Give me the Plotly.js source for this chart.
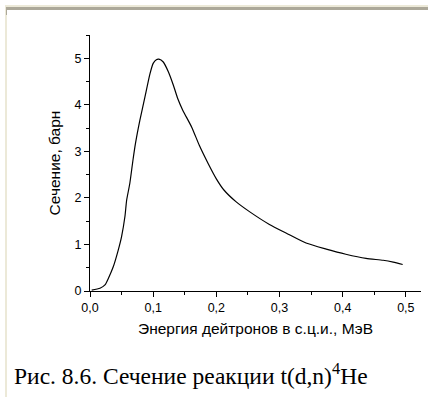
<!DOCTYPE html>
<html>
<head>
<meta charset="utf-8">
<script src="https://cdn.plot.ly/plotly-3.0.1.min.js"></script>
<style>
  html, body { margin: 0; padding: 0; background: #ffffff; }
  #wrap { position: relative; width: 428px; height: 397px; overflow: hidden; }
  #chart { position: absolute; left: 0; top: 0; width: 428px; height: 397px; }
  .edge { position: absolute; }
</style>
</head>
<body>
<div id="wrap">
  <!-- window frame edges -->
  <div class="edge" style="left:5px; top:5px; width:423px; height:2px; background:#ECE9D8;"></div>
  <div class="edge" style="left:7px; top:7px; width:421px; height:3px; background:#ACA899;"></div>
  <div class="edge" style="left:5px; top:5px; width:2px; height:392px; background:#ECE9D8;"></div>
  <div class="edge" style="left:6px; top:7px; width:1px; height:8px; background:#ACA899;"></div>
  <div id="chart"></div>
</div>
<script>
// Deuteron energy in the CM frame, MeV
const energy = [0.0027, 0.0158, 0.0237, 0.029, 0.0368, 0.0447, 0.050, 0.0553, 0.058, 0.063,
                0.068, 0.072, 0.079, 0.087, 0.095, 0.100, 0.105, 0.109, 0.116, 0.124,
                0.132, 0.139, 0.147, 0.161, 0.173, 0.187, 0.200, 0.212, 0.231, 0.253,
                0.284, 0.311, 0.342, 0.374, 0.405, 0.437, 0.464, 0.480, 0.495];
// Cross section, barn
const sigma = [0.02, 0.06, 0.13, 0.27, 0.52, 0.88, 1.17, 1.60, 1.95, 2.31,
               2.81, 3.17, 3.67, 4.17, 4.67, 4.89, 4.97, 4.98, 4.92, 4.71,
               4.42, 4.13, 3.88, 3.52, 3.13, 2.74, 2.41, 2.17, 1.92, 1.70,
               1.43, 1.24, 1.03, 0.90, 0.79, 0.70, 0.66, 0.62, 0.57];

const xTitle = 'Энергия дейтронов в с.ц.и., МэВ';
const yTitle = 'Сечение, барн';
const caption = 'Рис. 8.6. Сечение реакции t(d,n)<sup>4</sup>He';

const sans = 'Liberation Sans, Arial, sans-serif';
const axisFont = { family: sans, size: 12.5, color: '#000' };
const titleFont = { family: sans, size: 15.5, color: '#000' };

const trace = {
  x: energy,
  y: sigma,
  type: 'scatter',
  mode: 'lines',
  line: { color: '#000', width: 1.2, shape: 'spline', smoothing: 0.6 },
  hoverinfo: 'skip'
};

const layout = {
  width: 428,
  height: 397,
  margin: { l: 90, r: 7, t: 35, b: 106, pad: 0 },
  paper_bgcolor: 'rgba(0,0,0,0)',
  plot_bgcolor: 'rgba(0,0,0,0)',
  separators: ', ',
  showlegend: false,
  xaxis: {
    range: [0, 0.524],
    dtick: 0.1,
    tick0: 0,
    tickformat: '.1f',
    ticks: 'outside',
    ticklen: 5,
    tickwidth: 1,
    tickcolor: '#000',
    minor: { dtick: 0.05, ticks: 'outside', ticklen: 3, tickcolor: '#000', tickwidth: 1 },
    showline: true,
    linecolor: '#000',
    linewidth: 1,
    showgrid: false,
    zeroline: false,
    tickfont: axisFont,
    title: { text: xTitle, font: titleFont, standoff: 9 }
  },
  yaxis: {
    range: [0, 5.5],
    dtick: 1,
    tick0: 0,
    ticks: 'outside',
    ticklen: 5,
    tickwidth: 1,
    tickcolor: '#000',
    minor: { dtick: 0.5, ticks: 'outside', ticklen: 3, tickcolor: '#000', tickwidth: 1 },
    showline: true,
    linecolor: '#000',
    linewidth: 1,
    showgrid: false,
    zeroline: false,
    tickfont: axisFont,
    title: { text: yTitle, font: titleFont, standoff: 10 }
  },
  annotations: [{
    text: caption,
    xref: 'paper', yref: 'paper',
    x: (12 - 90) / 331, y: (291 - 374) / 256,
    xanchor: 'left', yanchor: 'middle',
    showarrow: false,
    font: { family: 'Liberation Serif, Times New Roman, serif', size: 23.5, color: '#000' }
  }]
};

Plotly.newPlot('chart', [trace], layout, { staticPlot: true, displayModeBar: false });
</script>
</body>
</html>
